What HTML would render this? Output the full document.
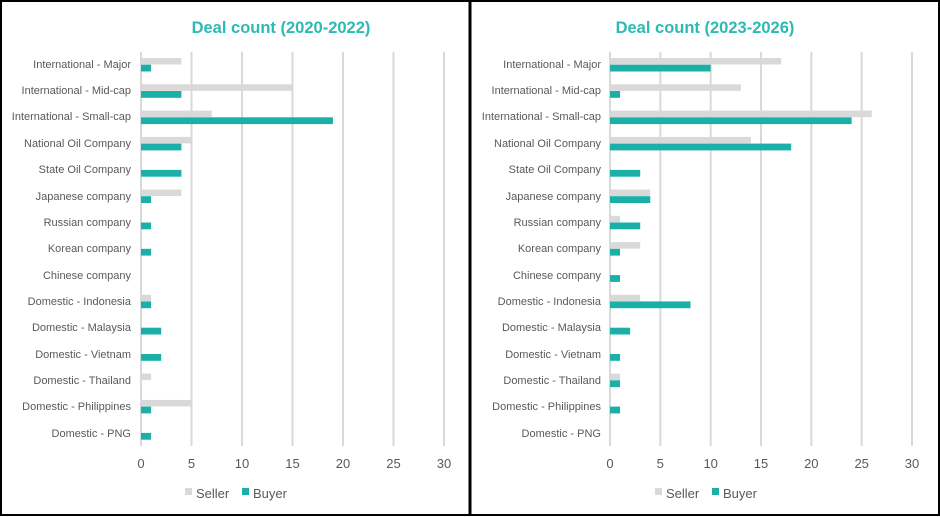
<!DOCTYPE html>
<html><head><meta charset="utf-8"><style>
html,body{margin:0;padding:0;background:#fff}
svg{display:block}
text{font-family:"Liberation Sans",Arial,sans-serif}
.l{font-size:11px;fill:#595959;text-anchor:end}
.t{font-size:13px;fill:#595959;text-anchor:middle}
.h{font-size:16.5px;font-weight:bold;fill:#2bbab4;text-anchor:middle}
.g{font-size:13px;fill:#595959}
</style></head><body>
<svg id="s" width="940" height="517" viewBox="0 0 940 517" xmlns="http://www.w3.org/2000/svg">
<rect x="0" y="0" width="940" height="517" fill="#fff"/>
<g id="bars"></g>
<rect x="1" y="1" width="468.5" height="514" fill="none" stroke="#000" stroke-width="2"/>
<rect x="470.5" y="1" width="468.5" height="514" fill="none" stroke="#000" stroke-width="2"/>
<text class="h" x="281" y="33">Deal count (2020-2022)</text>
<text class="h" x="705" y="33">Deal count (2023-2026)</text>
<g class="l">
<text x="131" y="68">International - Major</text>
<text x="131" y="94">International - Mid-cap</text>
<text x="131" y="120">International - Small-cap</text>
<text x="131" y="147">National Oil Company</text>
<text x="131" y="173">State Oil Company</text>
<text x="131" y="200">Japanese company</text>
<text x="131" y="226">Russian company</text>
<text x="131" y="252">Korean company</text>
<text x="131" y="279">Chinese company</text>
<text x="131" y="305">Domestic - Indonesia</text>
<text x="131" y="331">Domestic - Malaysia</text>
<text x="131" y="358">Domestic - Vietnam</text>
<text x="131" y="384">Domestic - Thailand</text>
<text x="131" y="410">Domestic - Philippines</text>
<text x="131" y="437">Domestic - PNG</text>
<text x="601" y="68">International - Major</text>
<text x="601" y="94">International - Mid-cap</text>
<text x="601" y="120">International - Small-cap</text>
<text x="601" y="147">National Oil Company</text>
<text x="601" y="173">State Oil Company</text>
<text x="601" y="200">Japanese company</text>
<text x="601" y="226">Russian company</text>
<text x="601" y="252">Korean company</text>
<text x="601" y="279">Chinese company</text>
<text x="601" y="305">Domestic - Indonesia</text>
<text x="601" y="331">Domestic - Malaysia</text>
<text x="601" y="358">Domestic - Vietnam</text>
<text x="601" y="384">Domestic - Thailand</text>
<text x="601" y="410">Domestic - Philippines</text>
<text x="601" y="437">Domestic - PNG</text>
</g>
<g class="t">
<text x="141" y="468">0</text><text x="191.5" y="468">5</text><text x="242" y="468">10</text><text x="292.5" y="468">15</text><text x="343" y="468">20</text><text x="393.5" y="468">25</text><text x="444" y="468">30</text>
<text x="610" y="468">0</text><text x="660.3" y="468">5</text><text x="710.7" y="468">10</text><text x="761" y="468">15</text><text x="811.3" y="468">20</text><text x="861.7" y="468">25</text><text x="912" y="468">30</text>
</g>
<rect x="185" y="488" width="7" height="7" fill="#d9d9d9"/><text class="g" x="196" y="498">Seller</text>
<rect x="242" y="488" width="7" height="7" fill="#1ab0a8"/><text class="g" x="253" y="498">Buyer</text>
<rect x="655" y="488" width="7" height="7" fill="#d9d9d9"/><text class="g" x="666" y="498">Seller</text>
<rect x="712" y="488" width="7" height="7" fill="#1ab0a8"/><text class="g" x="723" y="498">Buyer</text>
</svg>
<script>
var NS="http://www.w3.org/2000/svg",g=document.getElementById("bars");
function r(x,y,w,h,f){var e=document.createElementNS(NS,"rect");e.setAttribute("x",x);e.setAttribute("y",y);e.setAttribute("width",w);e.setAttribute("height",h);e.setAttribute("fill",f);g.appendChild(e);}
var L=[[4,1],[15,4],[7,19],[5,4],[0,4],[4,1],[0,1],[0,1],[0,0],[1,1],[0,2],[0,2],[1,0],[5,1],[0,1]];
var R=[[17,10],[13,1],[26,24],[14,18],[0,3],[4,4],[1,3],[3,1],[0,1],[3,8],[0,2],[0,1],[1,1],[0,1],[0,0]];
function chart(x0,u,d){
 for(var k=0;k<=6;k++){r(x0+k*5*u-1,52,2,394,"#d9d9d9");}
 for(var i=0;i<15;i++){var c=64.7+26.3*i;
  if(d[i][0])r(x0,c-6.7,d[i][0]*u,6.5,"#d9d9d9");
  if(d[i][1])r(x0,c,d[i][1]*u,6.8,"#1ab0a8");}
}
chart(141,10.1,L);chart(610,10.067,R);
</script>
</body></html>
